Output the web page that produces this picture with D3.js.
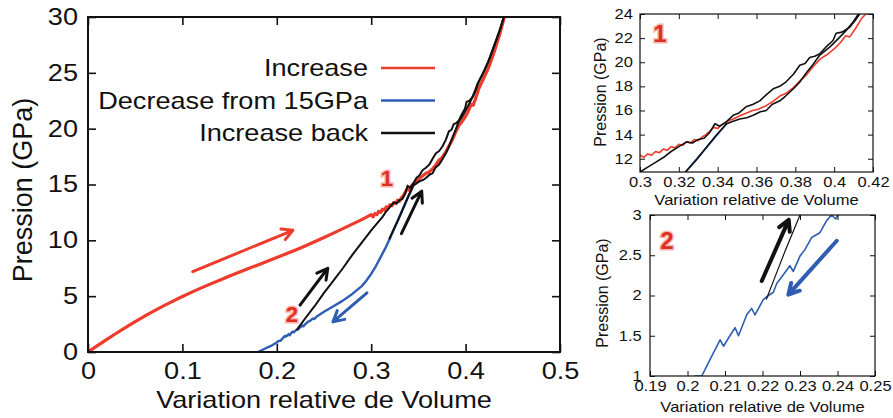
<!DOCTYPE html>
<html>
<head>
<meta charset="utf-8">
<script src="https://cdn.jsdelivr.net/npm/d3@7"></script>
<style>
  body { margin: 0; background: #fff; }
  text { font-family: "Liberation Sans", Arial, sans-serif; fill: #111; }
</style>
</head>
<body>
<div id="chart"></div>
<script>
// --- data: [variation relative de volume, pression GPa]
const increase = [
  [0,0],[0.01,0.57],[0.02,1.13],[0.03,1.68],[0.04,2.21],[0.05,2.72],[0.06,3.21],[0.07,3.68],[0.08,4.13],[0.09,4.56],
  [0.10,4.97],[0.11,5.36],[0.12,5.74],[0.13,6.1],[0.14,6.45],[0.15,6.8],[0.16,7.14],[0.17,7.47],[0.18,7.8],[0.19,8.13],
  [0.20,8.46],[0.21,8.8],[0.22,9.14],[0.23,9.5],[0.24,9.87],[0.25,10.25],[0.26,10.65],[0.27,11.05],[0.28,11.45],[0.29,11.85],
  [0.300,12.3],[0.302,12.1],[0.304,12.4],[0.306,12.3],[0.308,12.6],[0.310,12.5],[0.312,12.8],[0.314,12.7],
  [0.316,13.0],[0.318,12.9],[0.320,13.2],[0.322,13.1],[0.324,13.4],[0.326,13.3],[0.328,13.6],[0.330,13.5],
  [0.332,13.8],[0.334,14.0],[0.336,14.3],[0.338,14.6],[0.340,14.5],[0.342,14.8],[0.345,15.1],[0.348,15.3],
  [0.352,15.6],[0.355,15.8],[0.358,16.0],[0.361,16.1],[0.365,16.4],[0.368,16.7],[0.372,17.2],[0.375,17.4],
  [0.379,17.9],[0.382,18.4],[0.386,19.0],[0.389,19.6],[0.393,20.3],[0.396,20.6],[0.400,21.1],[0.403,21.6],
  [0.406,22.2],[0.408,22.1],[0.411,22.8],[0.414,23.6],[0.418,24.3],[0.424,25.4],[0.430,26.8],[0.436,28.4],[0.441,30.0]
];

const decrease = [
  [0.180,0.0],[0.185,0.2],[0.190,0.4],[0.195,0.6],[0.200,0.85],[0.202,1.0],[0.2038,1.0],[0.2064,1.24],
  [0.2087,1.45],[0.2096,1.37],[0.2113,1.5],[0.2127,1.6],[0.2136,1.5],[0.2158,1.76],[0.2171,1.84],[0.218,1.76],
  [0.2202,1.95],[0.2216,2.0],[0.2229,2.04],[0.2238,2.15],[0.2256,2.26],[0.2273,2.37],[0.2282,2.3],[0.230,2.49],
  [0.2313,2.57],[0.2331,2.72],[0.2353,2.78],[0.2371,2.93],[0.2384,3.0],[0.2395,2.95],[0.242,3.15],[0.250,3.6],
  [0.260,4.1],[0.270,4.6],[0.280,5.2],[0.290,5.9],[0.295,6.4],[0.300,7.0],[0.305,7.7],[0.310,8.5],[0.315,9.3],
  [0.320,10.2],[0.324,11.0],[0.334,12.9],[0.3446,14.9]
];

const increaseBack = [
  [0.221,1.95],[0.2235,2.25],[0.226,2.55],[0.230,3.0],[0.240,4.1],[0.250,5.3],[0.260,6.4],[0.270,7.5],[0.280,8.7],
  [0.290,9.8],[0.300,10.9],[0.304,11.3],[0.308,11.7],[0.312,12.1],[0.316,12.6],[0.320,13.0],[0.324,13.4],
  [0.327,13.3],[0.330,13.6],[0.333,13.7],[0.336,14.2],[0.3386,14.9],[0.341,14.7],[0.344,15.0],[0.348,15.6],
  [0.351,15.8],[0.3546,16.3],[0.358,16.5],[0.3617,16.8],[0.365,17.3],[0.3686,17.8],[0.372,18.0],[0.3754,18.4],
  [0.379,19.0],[0.3823,19.75],[0.385,19.9],[0.3874,20.4],[0.390,20.5],[0.3926,20.7],[0.396,21.3],[0.3994,21.8],
  [0.401,22.4],[0.404,22.5],[0.408,22.9],[0.411,23.5],[0.414,24.2],[0.420,25.2],[0.426,26.4],[0.432,27.8],
  [0.437,29.0],[0.4405,30]
];

const increaseBack2 = [
  [0.319,10.1],[0.324,11.0],[0.329,11.9],[0.334,12.9],[0.339,13.9],[0.3446,14.9],[0.348,15.1],[0.3514,15.3],
  [0.355,15.4],[0.3583,15.6],[0.362,15.9],[0.365,16.0],[0.368,16.5],[0.372,16.8],[0.375,17.2],[0.379,17.8],
  [0.382,18.3],[0.386,19.2],[0.389,19.8],[0.3926,20.6],[0.395,20.9],[0.398,21.3],[0.403,22.1],[0.406,22.6],
  [0.410,23.4],[0.4125,24.0],[0.418,24.9],[0.424,26.0],[0.430,27.4],[0.436,28.8],[0.4405,30]
];

const legendNames = ["Increase", "Decrease from 15GPa", "Increase back"];

// tick values / labels
const mainXTicks = [0, 0.1, 0.2, 0.3, 0.4, 0.5];
const mainXLabels = ["0", "0.1", "0.2", "0.3", "0.4", "0.5"];
const mainYTicks = [0, 5, 10, 15, 20, 25, 30];
const mainYLabels = ["0", "5", "10", "15", "20", "25", "30"];
const in1XTicks = [0.3, 0.32, 0.34, 0.36, 0.38, 0.4, 0.42];
const in1XLabels = ["0.3", "0.32", "0.34", "0.36", "0.38", "0.4", "0.42"];
const in1YTicks = [12, 14, 16, 18, 20, 22, 24];
const in1YLabels = ["12", "14", "16", "18", "20", "22", "24"];
const in2XTicks = [0.19, 0.2, 0.21, 0.22, 0.23, 0.24, 0.25];
const in2XLabels = ["0.19", "0.2", "0.21", "0.22", "0.23", "0.24", "0.25"];
const in2YTicks = [1, 1.5, 2, 2.5, 3];
const in2YLabels = ["1", "1.5", "2", "2.5", "3"];

// annotation arrows and region markers, in data units
const mainArrows = [
  { series: "Increase", from: [0.111, 7.2], to: [0.217, 10.9] },
  { series: "Increase back", from: [0.2246, 4.2], to: [0.254, 7.5] },
  { series: "Increase back", from: [0.332, 10.6], to: [0.3535, 14.4] },
  { series: "Decrease from 15GPa", from: [0.2955, 5.3], to: [0.2595, 2.7] }
];
const inset2Arrows = [
  { series: "Increase back", from: [0.2198, 2.18], to: [0.227, 2.94] },
  { series: "Decrease from 15GPa", from: [0.2398, 2.68], to: [0.2269, 2.01] }
];
const mainMarks = [{ label: "1", at: [0.3167, 15.6] }, { label: "2", at: [0.216, 3.4] }];
const inset1Marks = [{ label: "1", at: [0.3103, 22.4] }];
const inset2Marks = [{ label: "2", at: [0.1945, 2.69] }];

const color = d3.scaleOrdinal().domain(legendNames).range(["#ee3b2b", "#2f5db3", "#111111"]);
const STRETCH = "scale(1.18,1)";

const svg = d3.select("#chart").append("svg")
    .attr("width", 893)
    .attr("height", 418);

const line = (x, y) => d3.line().x(d => x(d[0])).y(d => y(d[1]));

function drawPanel(o) {
  const { x, y, id } = o;
  const [x0, x1] = x.range(), [y1, y0] = y.range();
  const g = svg.append("g");

  g.append("clipPath").attr("id", "clip-" + id)
    .append("rect").attr("x", x0).attr("y", y0).attr("width", x1 - x0).attr("height", y1 - y0);
  const plot = g.append("g").attr("clip-path", `url(#clip-${id})`);

  const series = [
    { name: "Increase", data: increase, w: o.wRed },
    { name: "Decrease from 15GPa", data: decrease, w: o.wBlue },
    { name: "Increase back", data: increaseBack, w: o.wBlack },
    { name: "Increase back", data: increaseBack2, w: o.wBlack }
  ];
  series.forEach(s => {
    plot.append("path")
      .attr("d", line(x, y)(s.data))
      .attr("fill", "none")
      .attr("stroke", color(s.name))
      .attr("stroke-width", s.w)
      .attr("stroke-linejoin", "round");
  });

  // axes, gnuplot style: ticks inside and mirrored
  const bottom = g.append("g").attr("transform", `translate(0,${y1})`)
    .call(d3.axisBottom(x).tickValues(o.xTicks).tickSize(-o.tick).tickPadding(o.xPad)
      .tickFormat((d, i) => o.xLabels[i]));
  const left = g.append("g").attr("transform", `translate(${x0},0)`)
    .call(d3.axisLeft(y).tickValues(o.yTicks).tickSize(-o.tick).tickPadding(o.yPad)
      .tickFormat((d, i) => o.yLabels[i]));
  g.append("g").attr("transform", `translate(0,${y0})`)
    .call(d3.axisTop(x).tickValues(o.xTicks).tickSize(-o.tick).tickFormat(""));
  g.append("g").attr("transform", `translate(${x1},0)`)
    .call(d3.axisRight(y).tickValues(o.yTicks).tickSize(-o.tick).tickFormat(""));

  g.selectAll(".domain").remove();
  g.selectAll(".tick line").attr("stroke", "#111").attr("stroke-width", o.tickW);
  [bottom, left].forEach(a => a.selectAll("text")
    .attr("transform", STRETCH)
    .style("font-size", o.font + "px")
    .style("font-family", "Liberation Sans, Arial, sans-serif")
    .attr("fill", "#111"));

  g.append("rect")
    .attr("x", x0).attr("y", y0).attr("width", x1 - x0).attr("height", y1 - y0)
    .attr("fill", "none").attr("stroke", "#111").attr("stroke-width", o.frameW);

  // axis titles
  g.append("text")
    .attr("transform", `translate(${(x0 + x1) / 2},${o.xTitleY}) ${STRETCH}`)
    .attr("text-anchor", "middle")
    .style("font-size", o.font + "px")
    .text("Variation relative de Volume");
  g.append("text")
    .attr("transform", `translate(${o.yTitleX},${o.yTitleY}) rotate(-90)`)
    .attr("text-anchor", "middle")
    .style("font-size", o.yTitleFont + "px")
    .text("Pression (GPa)");

  // arrows
  (o.arrows || []).forEach(a => {
    const p0 = [x(a.from[0]), y(a.from[1])], p1 = [x(a.to[0]), y(a.to[1])];
    const ang = Math.atan2(p1[1] - p0[1], p1[0] - p0[0]);
    const wing = t => [p1[0] - o.head * Math.cos(ang + t), p1[1] - o.head * Math.sin(ang + t)];
    const w1 = wing(0.5), w2 = wing(-0.5);
    g.append("path")
      .attr("d", `M${p0}L${p1}M${w1}L${p1}L${w2}`)
      .attr("fill", "none")
      .attr("stroke", color(a.series))
      .attr("stroke-width", o.arrowW)
      .attr("stroke-linecap", "round")
      .attr("stroke-linejoin", "round");
  });

  // region markers "1" / "2"
  (o.marks || []).forEach(m => {
    g.append("text")
      .attr("x", x(m.at[0])).attr("y", y(m.at[1]))
      .attr("dy", "0.36em")
      .attr("text-anchor", "middle")
      .style("font-size", o.markFont + "px")
      .style("font-weight", "bold")
      .style("fill", "#df2f22")
      .style("stroke", "#f7b9b0")
      .style("stroke-width", 3)
      .style("paint-order", "stroke")
      .text(m.label);
  });
  return g;
}

const xMain = d3.scaleLinear().domain([0, 0.5]).range([88, 560]);
const yMain = d3.scaleLinear().domain([0, 30]).range([352, 17]);
const mainG = drawPanel({
  id: "main", x: xMain, y: yMain,
  xTicks: mainXTicks, xLabels: mainXLabels, yTicks: mainYTicks, yLabels: mainYLabels,
  tick: 8, tickW: 1.6, frameW: 2, font: 23, xPad: 11, yPad: 8.5,
  xTitleY: 408, yTitleX: 32, yTitleY: 190, yTitleFont: 27,
  wRed: 3.2, wBlue: 2.4, wBlack: 2,
  arrows: mainArrows, head: 12, arrowW: 3, marks: mainMarks, markFont: 22
});

// legend
legendNames.forEach((name, i) => {
  const yy = 68 + i * 32.5;
  mainG.append("text")
    .attr("transform", `translate(368,${yy}) ${STRETCH}`)
    .attr("dy", "0.36em")
    .attr("text-anchor", "end")
    .style("font-size", "23px")
    .text(name);
  mainG.append("line")
    .attr("x1", 381).attr("x2", 435).attr("y1", yy).attr("y2", yy)
    .attr("stroke", color(name)).attr("stroke-width", 2.6);
});

drawPanel({
  id: "in1",
  x: d3.scaleLinear().domain([0.3, 0.42]).range([640, 873]),
  y: d3.scaleLinear().domain([10.9, 24]).range([172, 14]),
  xTicks: in1XTicks, xLabels: in1XLabels, yTicks: in1YTicks, yLabels: in1YLabels,
  tick: 5, tickW: 1, frameW: 1.2, font: 14, xPad: 5, yPad: 6,
  xTitleY: 205, yTitleX: 606, yTitleY: 92, yTitleFont: 16,
  wRed: 1.6, wBlue: 1.8, wBlack: 1.6,
  marks: inset1Marks, markFont: 24
});

drawPanel({
  id: "in2",
  x: d3.scaleLinear().domain([0.19, 0.25]).range([650, 875]),
  y: d3.scaleLinear().domain([1, 3]).range([376, 215]),
  xTicks: in2XTicks, xLabels: in2XLabels, yTicks: in2YTicks, yLabels: in2YLabels,
  tick: 5, tickW: 1, frameW: 1.2, font: 14, xPad: 5, yPad: 7,
  xTitleY: 412, yTitleX: 608, yTitleY: 293, yTitleFont: 16,
  wRed: 1.6, wBlue: 1.6, wBlack: 1.2,
  arrows: inset2Arrows, head: 12, arrowW: 4, marks: inset2Marks, markFont: 24
});
</script>
</body>
</html>
